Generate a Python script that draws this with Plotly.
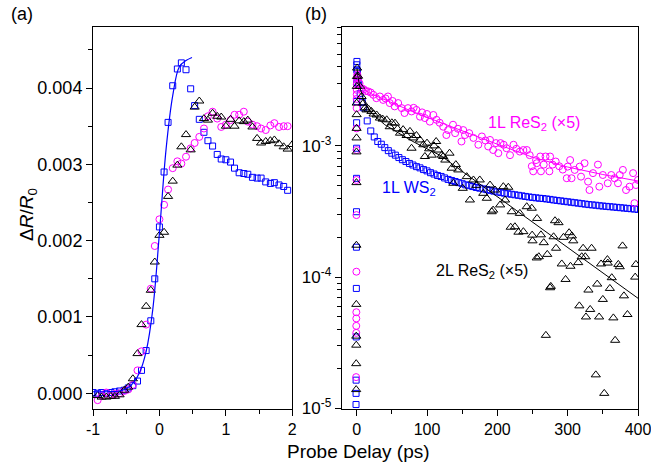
import plotly.graph_objects as go

W, H = 651, 468
ML, MR, MT, MB = 93, 13, 27, 59
PW, PH = W - ML - MR, H - MT - MB
FONT = "Liberation Sans, Arial, sans-serif"
BLUE = "#0000FF"
MAG = "#FF00FF"
BLK = "#000000"

# ---------------- Panel (a): rise, linear scale ----------------
a_time_ws2 = [-1.00, -0.93, -0.87, -0.80, -0.73, -0.67, -0.60, -0.53, -0.47, -0.40,
              -0.33, -0.27, -0.20, -0.13, -0.07, 0.00, 0.07, 0.13, 0.20, 0.27,
              0.33, 0.40, 0.47, 0.53, 0.60, 0.67, 0.73, 0.80, 0.87, 0.93,
              1.00, 1.07, 1.13, 1.20, 1.27, 1.33, 1.40, 1.47, 1.53, 1.60,
              1.67, 1.73, 1.80, 1.87, 1.93]
a_ws2 = [0.00001, 0.0, 0.00001, 0.0, 0.00001, 0.00002, 0.00003, 0.00004, 0.00007, 0.0001,
         0.00016, 0.0003, 0.00056, 0.00095, 0.0015, 0.00218, 0.0029, 0.00355, 0.00403, 0.00425,
         0.00433, 0.00424, 0.00399, 0.00377, 0.00359, 0.00342, 0.00331, 0.00324, 0.00313, 0.00307,
         0.00306, 0.00303, 0.00295, 0.00289, 0.00288, 0.00287, 0.00283, 0.00282, 0.00282, 0.00277,
         0.00275, 0.00276, 0.00273, 0.00271, 0.00266]

a_time_1l = [-0.93, -0.87, -0.80, -0.73, -0.67, -0.60, -0.53, -0.47, -0.40,
             -0.33, -0.27, -0.20, -0.13, -0.07, 0.00, 0.07, 0.13, 0.20, 0.27,
             0.33, 0.40, 0.47, 0.53, 0.60, 0.67, 0.73, 0.80, 0.87, 0.93,
             1.00, 1.07, 1.13, 1.20, 1.27, 1.33, 1.40, 1.47, 1.53, 1.60,
             1.67, 1.73, 1.80, 1.87, 1.93]
a_res2_1l = [-0.00009, -0.00003, 0.00001, -0.00002, -0.00001, 0.0, 0.00003, 0.00005, 0.00011,
             0.0003, 0.00055, 0.0009, 0.00137, 0.00193, 0.00228, 0.00247, 0.00267, 0.00295, 0.00304,
             0.00301, 0.0031, 0.00321, 0.00328, 0.00336, 0.00347, 0.00363, 0.00369, 0.0036, 0.00349,
             0.00352, 0.00358, 0.00365, 0.00365, 0.00369, 0.00356, 0.00352, 0.0035, 0.00347, 0.00345,
             0.00351, 0.00354, 0.00349, 0.0035, 0.0035]

a_time_2l = [-0.93, -0.87, -0.80, -0.73, -0.67, -0.60, -0.53, -0.47, -0.40,
             -0.33, -0.27, -0.20, -0.13, -0.07, 0.00, 0.07, 0.13, 0.20, 0.27,
             0.33, 0.40, 0.47, 0.53, 0.60, 0.67, 0.73, 0.80, 0.87, 0.93,
             1.00, 1.07, 1.13, 1.20, 1.27, 1.33, 1.40, 1.47, 1.53, 1.60,
             1.67, 1.73, 1.80, 1.87, 1.93, 2.00]
a_res2_2l = [-0.00003, -0.00005, -0.00005, -0.00004, -0.00004, -0.00002, 0.00004, 0.00008, 0.00019,
             0.00052, 0.0009, 0.00114, 0.00135, 0.00172, 0.00207, 0.00211, 0.00258, 0.00278, 0.00299,
             0.00323, 0.00339, 0.00319, 0.00375, 0.00383, 0.0036, 0.00358, 0.00367, 0.00363, 0.00362,
             0.0035, 0.00359, 0.0035, 0.00357, 0.00356, 0.00358, 0.00349, 0.00334, 0.00328, 0.0033,
             0.00331, 0.00332, 0.00327, 0.00323, 0.0032, 0.00326]

a_fit_time = [-1.0, -0.8, -0.6, -0.5, -0.4, -0.3, -0.2, -0.1, 0.0, 0.1, 0.2, 0.3, 0.4, 0.49]
a_fit_ws2 = [0.00002, 0.00002, 0.00003, 0.00006, 0.00013, 0.00027, 0.00055, 0.0011, 0.0021,
             0.0032, 0.0039, 0.00428, 0.00436, 0.0044]

# ---------------- Panel (b): decay, log scale ----------------
b_time_ws2 = [-0.93, -0.87, -0.80, -0.60, -0.47, -0.33, -0.27, -0.20, -0.13, -0.07, 0.00, 0.07, 0.13, 0.20, 0.33,
              1, 2, 3, 5, 8, 10, 15, 20, 25, 30, 35, 40, 45, 50, 55, 60, 65, 70, 75, 80, 85, 90, 95,
              100, 105, 110, 115, 120, 125, 130, 135, 140, 145, 150, 155, 160, 165, 170, 175, 180, 185,
              190, 195, 200, 205, 210, 215, 220, 225, 230, 235, 240, 245, 250, 255, 260, 265, 270, 275,
              280, 285, 290, 295, 300, 305, 310, 315, 320, 325, 330, 335, 340, 345, 350, 355, 360, 365,
              370, 375, 380, 385, 390, 395, 400]
b_ws2 = [1.07e-5, 1.3e-5, 1.64e-5, 3.5e-5, 8.2e-5, 1.69e-4, 3.15e-4, 5.66e-4, 9.6e-4, 1.5e-3, 2.18e-3, 3.03e-3, 3.8e-3, 4.15e-3, 4.4e-3,
         3.7e-3, 3.2e-3, 2.9e-3, 2.5e-3, 2.15e-3, 1.95e-3, 1.55e-3, 1.3e-3, 1.17e-3, 1.08e-3, 1.03e-3, 9.7e-4, 9.2e-4, 8.8e-4, 8.5e-4, 8.15e-4, 7.85e-4, 7.6e-4, 7.35e-4, 7.15e-4, 6.95e-4, 6.8e-4, 6.6e-4,
         6.45e-4, 6.25e-4, 6.1e-4, 5.95e-4, 5.85e-4, 5.7e-4, 5.55e-4, 5.45e-4, 5.35e-4, 5.25e-4, 5.15e-4, 5.05e-4, 4.98e-4, 4.9e-4, 4.82e-4, 4.76e-4, 4.7e-4, 4.64e-4,
         4.58e-4, 4.52e-4, 4.46e-4, 4.41e-4, 4.36e-4, 4.32e-4, 4.28e-4, 4.24e-4, 4.2e-4, 4.16e-4, 4.12e-4, 4.08e-4, 4.05e-4, 4.02e-4, 3.99e-4, 3.97e-4, 3.94e-4, 3.91e-4,
         3.87e-4, 3.84e-4, 3.81e-4, 3.78e-4, 3.75e-4, 3.72e-4, 3.69e-4, 3.66e-4, 3.63e-4, 3.6e-4, 3.57e-4, 3.55e-4, 3.53e-4, 3.5e-4, 3.48e-4, 3.46e-4, 3.44e-4, 3.42e-4,
         3.4e-4, 3.38e-4, 3.36e-4, 3.34e-4, 3.32e-4, 3.3e-4, 3.28e-4]

b_time_1l = [-0.80, -0.60, -0.57, -0.53, -0.47, -0.40, -0.33, -0.27, -0.20, -0.13, -0.07, 0.00, 0.07, 0.13, 0.20, 0.33, 0.5, 0.8,
             2, 4, 7, 10, 13, 16.5, 20, 23.6, 28, 33, 37.6, 41, 44.5, 47, 51, 54, 59, 64, 68, 73, 78, 81, 85, 90, 93, 97,
             100, 104, 109, 113.5, 118, 123, 127.5, 130, 137, 140, 144, 149, 151.5, 154, 160, 166, 173, 178, 183, 187,
             189.6, 194, 198, 201.4, 204.5, 209, 213, 218, 223, 227, 232, 237, 242, 246, 249, 251, 255, 256, 261, 262,
             266, 268.5, 274, 275, 278.5, 283, 288, 293, 298.7, 300, 303.5, 305.5, 310, 317, 319, 324, 329, 331, 336,
             343, 345, 350, 357, 362, 366.7, 371.5, 374, 378.5, 383, 388, 393, 395, 397, 400]
b_res2_1l = [1.73e-5, 3.76e-5, 4.25e-5, 4.84e-5, 5.4e-5, 1.1e-4, 2.97e-4, 5.5e-4, 9.3e-4, 1.36e-3, 1.94e-3, 2.28e-3, 2.47e-3, 2.67e-3, 2.95e-3, 3.2e-3, 3.36e-3, 3.5e-3,
             3.3e-3, 3.0e-3, 2.75e-3, 2.7e-3, 2.62e-3, 2.6e-3, 2.55e-3, 2.45e-3, 2.31e-3, 2.38e-3, 2.24e-3, 2.3e-3, 2.38e-3, 2.12e-3, 2.2e-3, 2.0e-3, 2.12e-3, 1.94e-3, 1.78e-3, 1.94e-3, 1.83e-3, 1.95e-3, 1.88e-3, 1.67e-3, 1.8e-3, 1.63e-3,
             1.75e-3, 1.53e-3, 1.72e-3, 1.58e-3, 1.5e-3, 1.4e-3, 1.21e-3, 1.32e-3, 1.45e-3, 1.25e-3, 1.35e-3, 1.08e-3, 1.32e-3, 1.21e-3, 1.25e-3, 1.15e-3, 1.02e-3, 1.18e-3, 1.1e-3, 9.9e-4,
             1.11e-3, 9.3e-4, 1.05e-3, 8.8e-4, 1.05e-3, 1.02e-3, 9.6e-4, 8.5e-4, 1.02e-3, 9.5e-4, 9.05e-4, 9.3e-4, 9.3e-4, 8.5e-4, 7.0e-4, 6.4e-4, 7.8e-4, 7.38e-4, 8.3e-4, 6.4e-4,
             7.2e-4, 8.3e-4, 6.4e-4, 8.3e-4, 7.2e-4, 7.6e-4, 7.0e-4, 6.6e-4, 5.67e-4, 6.95e-4, 7.8e-4, 5.67e-4, 6.56e-4, 6.95e-4, 5.83e-4, 7.38e-4, 5.34e-4, 4.61e-4, 6.2e-4,
             7.2e-4, 4.89e-4, 6.0e-4, 5.19e-4, 6.0e-4, 5.67e-4, 5.19e-4, 6.0e-4, 6.56e-4, 4.61e-4, 4.89e-4, 6.2e-4, 3.66e-4, 5.03e-4, 5.5e-4]

b_time_2l = [-0.73, -0.67, -0.60, -0.57, -0.53, -0.40, -0.33, -0.27, -0.20, -0.13, -0.07, 0.00, 0.2, 0.4, 0.6,
             2, 4.7, 7, 9.4, 12, 14, 17, 21, 24, 28.4, 33, 37, 42.7, 47, 50, 54.5, 58, 61.6, 66, 71, 75.8, 78, 80.5,
             85, 90, 94.7, 97, 100, 103, 106.7, 110, 113, 116, 121, 123, 126, 132, 135, 137.4, 141, 144.5, 150.8,
             156.5, 161, 166, 170, 175, 180, 185, 189.6, 192, 194, 196.7, 204, 208.5, 211, 215.6, 219, 220.5, 225,
             230, 232, 237, 241.8, 249, 249.5, 250, 256, 256.5, 259, 262, 266, 269, 271, 275, 276, 280, 282, 283.5,
             287, 291.6, 294, 297, 302, 304, 306, 308, 315, 316.6, 320, 322, 325, 326, 329.5, 332, 334, 340, 342,
             344.7, 347.5, 350, 352, 356.5, 357, 360, 362.7, 365, 367.5, 372, 374, 378, 380, 385, 396, 397]
b_res2_2l = [1.39e-5, 2.19e-5, 3.03e-5, 3.55e-5, 6.2e-5, 1.75e-4, 5.25e-4, 9.0e-4, 1.15e-3, 1.36e-3, 1.73e-3, 2.12e-3, 2.84e-3, 3.38e-3, 3.92e-3,
             3.4e-3, 2.84e-3, 2.38e-3, 2.12e-3, 1.95e-3, 1.88e-3, 1.9e-3, 1.83e-3, 1.75e-3, 1.72e-3, 1.63e-3, 1.6e-3, 1.58e-3, 1.4e-3, 1.5e-3, 1.49e-3, 1.35e-3, 1.25e-3, 1.33e-3, 1.2e-3, 1.29e-3, 9.6e-4, 1.15e-3,
             1.2e-3, 1.11e-3, 1.02e-3, 8.3e-4, 1.05e-3, 9.5e-4, 8.5e-4, 1.0e-3, 1.08e-3, 9.3e-4, 8.5e-4, 8.3e-4, 7.8e-4, 8.8e-4, 6.76e-4, 5.19e-4, 7.2e-4, 6.56e-4, 4.75e-4,
             5.83e-4, 3.87e-4, 5.5e-4, 5.0e-4, 5.5e-4, 4.35e-4, 3.99e-4, 5.03e-4, 3.15e-4, 3.24e-4, 4.61e-4, 3.55e-4, 4.89e-4, 3.87e-4, 4.84e-4, 2.4e-4, 3.15e-4, 2.42e-4,
             2.2e-4, 3.06e-4, 2.22e-4, 3.44e-4, 3.35e-4, 2.09e-4, 1.89e-4, 1.4e-4, 2.8e-4, 1.43e-4, 2.1e-4, 1.83e-4, 3.6e-5, 1.49e-4, 8.3e-5, 8.5e-5, 2.03e-4, 2.69e-4, 1.66e-4,
             2.6e-4, 1.26e-4, 2.01e-4, 9.6e-5, 2.18e-4, 1.21e-4, 2.06e-4, 1.89e-4, 1.29e-4, 6.04e-5, 1.43e-4, 1.66e-4, 1.43e-4, 4.97e-5, 7.97e-5, 5.67e-5, 1.66e-4, 1.8e-5, 8.85e-5,
             4.97e-5, 1.26e-4, 6.76e-5, 1.3e-5, 1.36e-4, 1.28e-4, 8.2e-5, 9.9e-5, 4.89e-5, 3.3e-5, 1.25e-4, 1.2e-4, 1.73e-4, 7.2e-5, 5.19e-5, 1.0e-4, 1.25e-4]

b_fit_time_2l = [0.5, 2, 5, 10, 20, 40, 60, 80, 100, 120, 150, 200, 250, 300, 350, 400]
b_fit_2l = [3.9e-3, 3.3e-3, 2.75e-3, 2.2e-3, 1.8e-3, 1.45e-3, 1.25e-3, 1.08e-3, 9.5e-4, 8.4e-4,
            6.4e-4, 4.1e-4, 2.63e-4, 1.68e-4, 1.08e-4, 6.9e-5]
b_fit_time_1l = [0.5, 2, 5, 10, 20, 40, 60, 80, 100, 150, 200, 250, 300, 350, 400]
b_fit_1l = [3.5e-3, 3.2e-3, 2.9e-3, 2.7e-3, 2.5e-3, 2.25e-3, 2.0e-3, 1.82e-3, 1.65e-3, 1.3e-3,
            1.03e-3, 8.2e-4, 6.9e-4, 6.05e-4, 5.4e-4]

# tick labels
a_xticks = [-1, 0, 1, 2]
a_xticklabels = ["-1", "0", "1", "2"]
a_yticks = [0.0, 0.001, 0.002, 0.003, 0.004]
a_yticklabels = ["0.000", "0.001", "0.002", "0.003", "0.004"]
b_xticks = [0, 100, 200, 300, 400]
b_xticklabels = ["0", "100", "200", "300", "400"]
b_yticks = [1e-5, 1e-4, 1e-3]
b_yticklabels = ["10<sup>-5</sup>", "10<sup>-4</sup>", "10<sup>-3</sup>"]
b_yminor = [m * 10.0 ** e for e in (-5, -4, -3) for m in range(2, 10)]


def px_x(p):
    # window pixel -> paper fraction
    return (p - ML) / PW


def px_y(p):
    return (H - MB - p) / PH


fig = go.Figure()

mk_sq = dict(symbol="square-open", size=6, color=BLUE, line=dict(width=1, color=BLUE))
mk_ci = dict(symbol="circle-open", size=7, color=MAG, line=dict(width=1, color=MAG))
mk_tr = dict(symbol="triangle-up-open", size=8, color=BLK, line=dict(width=1, color=BLK))

# Panel (a)
fig.add_trace(go.Scatter(x=a_time_ws2, y=a_ws2, mode="markers", marker=mk_sq, xaxis="x", yaxis="y"))
fig.add_trace(go.Scatter(x=a_time_1l, y=a_res2_1l, mode="markers", marker=mk_ci, xaxis="x", yaxis="y"))
fig.add_trace(go.Scatter(x=a_time_2l, y=a_res2_2l, mode="markers", marker=mk_tr, xaxis="x", yaxis="y"))
fig.add_trace(go.Scatter(x=a_fit_time, y=a_fit_ws2, mode="lines", line=dict(color=BLUE, width=1.2, shape="spline"),
                         xaxis="x", yaxis="y"))

# Panel (b)
fig.add_trace(go.Scatter(x=b_time_ws2, y=b_ws2, mode="markers", marker=mk_sq, xaxis="x2", yaxis="y2"))
fig.add_trace(go.Scatter(x=b_time_1l, y=b_res2_1l, mode="markers", marker=mk_ci, xaxis="x2", yaxis="y2"))
fig.add_trace(go.Scatter(x=b_time_2l, y=b_res2_2l, mode="markers", marker=mk_tr, xaxis="x2", yaxis="y2"))
fig.add_trace(go.Scatter(x=b_fit_time_1l, y=b_fit_1l, mode="lines", line=dict(color=MAG, width=1),
                         xaxis="x2", yaxis="y2"))
fig.add_trace(go.Scatter(x=b_fit_time_2l, y=b_fit_2l, mode="lines", line=dict(color=BLK, width=1),
                         xaxis="x2", yaxis="y2"))

ax_common = dict(showline=True, linecolor="black", linewidth=1, mirror=True, showgrid=False,
                 zeroline=False, ticks="outside", ticklen=6, tickwidth=1, tickcolor="black",
                 automargin=False, ticklabeloverflow="allow",
                 tickfont=dict(family=FONT, size=16, color="black"))

xa = dict(ax_common, domain=[0.0, px_x(292.3)], range=[-1, 2], anchor="y",
          tickmode="array", tickvals=a_xticks, ticktext=a_xticklabels,
          minor=dict(ticks="outside", ticklen=4, tickcolor="black", tickmode="linear", tick0=-1, dtick=0.5))
ya = dict(ax_common, domain=[0, 1], range=[-0.000206, 0.0048], anchor="x",
          tickmode="array", tickvals=a_yticks, ticktext=a_yticklabels,
          tickfont=dict(family=FONT, size=18, color="black"),
          minor=dict(ticks="outside", ticklen=4, tickcolor="black", tickmode="linear", tick0=0, dtick=0.0005))
xb = dict(ax_common, domain=[px_x(341.7), 1.0], range=[-21.3, 400], anchor="y2",
          tickmode="array", tickvals=b_xticks, ticktext=b_xticklabels,
          minor=dict(ticks="outside", ticklen=4, tickcolor="black", tickmode="linear", tick0=0, dtick=50))
yb = dict(ax_common, domain=[0, 1], type="log", range=[-5.005, -2.094], anchor="x2",
          tickmode="array", tickvals=b_yticks, ticktext=b_yticklabels,
          tickfont=dict(family=FONT, size=17, color="black"),
          minor=dict(ticks="outside", ticklen=4, tickcolor="black", tickmode="array", tickvals=b_yminor))

annotations = [
    dict(text="(a)", x=px_x(22), y=px_y(14), font=dict(size=18)),
    dict(text="(b)", x=px_x(316), y=px_y(14), font=dict(size=18)),
    dict(text="Probe Delay (ps)", x=px_x(358), y=px_y(452), font=dict(size=19)),
    dict(text="Δ<i>R</i>/<i>R</i><sub>0</sub>", x=px_x(28), y=px_y(215), textangle=-90, font=dict(size=19)),
    dict(text="1L ReS<sub>2</sub> (×5)", x=px_x(534), y=px_y(123), font=dict(size=16, color=MAG)),
    dict(text="1L WS<sub>2</sub>", x=px_x(409), y=px_y(189), font=dict(size=16, color=BLUE)),
    dict(text="2L ReS<sub>2</sub> (×5)", x=px_x(482), y=px_y(271), font=dict(size=16, color=BLK)),
]
for an in annotations:
    an.update(xref="paper", yref="paper", showarrow=False, xanchor="center", yanchor="middle")
    f = an["font"]
    f.setdefault("family", FONT)
    f.setdefault("color", "black")

fig.update_layout(
    width=W, height=H,
    margin=dict(l=ML, r=MR, t=MT, b=MB, autoexpand=False),
    paper_bgcolor="white", plot_bgcolor="white",
    showlegend=False,
    hovermode=False,
    font=dict(family=FONT, color="black", size=16),
    xaxis=xa, yaxis=ya, xaxis2=xb, yaxis2=yb,
    annotations=annotations,
)

# remove the default 8px page margin so the 651x468 figure fills the window exactly
fig.write_html("out.html",
               config={"displayModeBar": False, "staticPlot": True},
               post_script="document.body.style.margin='0';document.body.style.overflow='hidden';")
